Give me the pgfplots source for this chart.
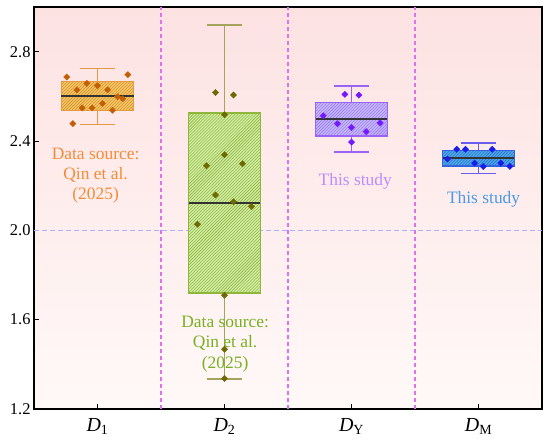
\documentclass[border=0pt]{standalone}
\usepackage{fontspec}
\setmainfont{Liberation Serif}
\usepackage{pgfplots}
\pgfplotsset{compat=1.18}
\usepgfplotslibrary{statistics}
\usetikzlibrary{patterns}
\definecolor{bgtop}{HTML}{FDE2E2}
\definecolor{bgbot}{HTML}{FFF9F8}
\definecolor{vline}{HTML}{E070F0}
\definecolor{hline}{HTML}{AAB0FF}
% D1
\definecolor{aFill}{HTML}{F5C363}
\definecolor{aEdge}{HTML}{E29A45}
\definecolor{aHatch}{HTML}{CF8E2A}
\definecolor{aPt}{HTML}{C45F05}
\definecolor{aTxt}{HTML}{F28C38}
% D2
\definecolor{bFill}{HTML}{CFEE9B}
\definecolor{bEdge}{HTML}{8DB63A}
\definecolor{bHatch}{HTML}{8CAA45}
\definecolor{bWh}{HTML}{A5A45C}
\definecolor{bPt}{HTML}{6E6A00}
\definecolor{bTxt}{HTML}{78B024}
% DY
\definecolor{cFill}{HTML}{C6B6FF}
\definecolor{cEdge}{HTML}{9A62F5}
\definecolor{cHatch}{HTML}{9274EC}
\definecolor{cPt}{HTML}{7418FF}
\definecolor{cTxt}{HTML}{BC8CFF}
% DM
\definecolor{dFill}{HTML}{4CA6EA}
\definecolor{dEdge}{HTML}{3462E0}
\definecolor{dHatch}{HTML}{2A6CC4}
\definecolor{dWh}{HTML}{6A5CEE}
\definecolor{dPt}{HTML}{1A1CEC}
\definecolor{dTxt}{HTML}{4A9AE6}
\begin{document}
\begin{tikzpicture}
\begin{axis}[
  name=ax,
  scale only axis,
  width=508bp, height=402bp,
  xmin=-0.5, xmax=3.5,
  ymin=1.2, ymax=3.0,
  xtick={0,1,2,3},
  xticklabels={{\textit{D}\textsubscript{1}},{\textit{D}\textsubscript{2}},{\textit{D}\textsubscript{Y}},{\textit{D}\textsubscript{M}}},
  ytick={1.2,1.6,2.0,2.4,2.8},
  yticklabel style={/pgf/number format/.cd, fixed, fixed zerofill, precision=1},
  /pgf/number format/assume math mode=true,
  tick label style={font=\fontsize{16.5}{19}\selectfont, black},
  xticklabel style={font=\fontsize{20}{23}\selectfont, yshift=-6bp},
  tick pos=left,
  tick align=inside,
  major tick length=5bp,
  tick style={black, line width=1pt},
  axis line style={black, line width=1.3pt},
  axis background/.style={top color=bgtop, bottom color=bgbot},
  clip=false,
  boxplot/draw direction=y,
  boxplot/every median/.style={draw=black!80, line width=1.8pt},
  mymark/.style={only marks, mark=square*, mark size=2.2pt, mark options={rotate=45}},
  sep/.style={dash pattern=on 4bp off 3bp, line width=1.25bp, forget plot},
]
% separators
\addplot[hline, dash pattern=on 5bp off 3bp, line width=1.1bp, forget plot] coordinates {(-0.5,2.0) (3.5,2.0)};
\addplot[vline, sep] coordinates {(0.5,1.2) (0.5,3.0)};
\addplot[vline, sep] coordinates {(1.5,1.2) (1.5,3.0)};
\addplot[vline, sep] coordinates {(2.5,1.2) (2.5,3.0)};

% D1 box
\addplot[draw=aEdge, line width=1.6pt, fill=aFill,
  boxplot/every box/.style={postaction={pattern=north east lines, pattern color=aHatch}},
  boxplot prepared={draw position=0, lower whisker=2.474, lower quartile=2.536,
    median=2.600, upper quartile=2.666, upper whisker=2.725,
    box extend=0.57, whisker extend=0.28}] coordinates {};
\addplot[mymark, color=aPt] coordinates {
(-0.242,2.687) (0.239,2.697) (-0.084,2.658) (0,2.647) (-0.163,2.629) (0.079,2.629)
(0.157,2.598) (0.199,2.589) (0.039,2.568) (-0.121,2.548) (-0.042,2.548) (0.118,2.538)
(-0.194,2.478)};

% D2 box
\addplot[draw=bEdge, line width=1.6pt, fill=bFill,
  boxplot/every box/.style={postaction={pattern=north east lines, pattern color=bHatch}},
  boxplot/every whisker/.style={draw=bWh, line width=1.7pt},
  boxplot prepared={draw position=1, lower whisker=1.333, lower quartile=1.720,
    median=2.124, upper quartile=2.526, upper whisker=2.918,
    box extend=0.565, whisker extend=0.28}] coordinates {};
\addplot[mymark, color=bPt] coordinates {
(0.929,2.617) (1.071,2.606) (1,2.518) (1,2.338) (0.858,2.289) (1.142,2.298)
(0.929,2.158) (1.071,2.128) (1.213,2.107) (0.787,2.027) (1,1.709) (1,1.468) (1,1.337)};

% DY box
\addplot[draw=cEdge, line width=1.6pt, fill=cFill,
  boxplot/every box/.style={postaction={pattern=north east lines, pattern color=cHatch}},
  boxplot prepared={draw position=2, lower whisker=2.350, lower quartile=2.422,
    median=2.499, upper quartile=2.573, upper whisker=2.645,
    box extend=0.565, whisker extend=0.28}] coordinates {};
\addplot[mymark, color=cPt] coordinates {
(1.948,2.609) (2.058,2.605) (1.777,2.513) (2.226,2.481) (1.890,2.477)
(2,2.460) (2.116,2.442) (2,2.395)};

% DM box
\addplot[draw=dEdge, line width=1.6pt, fill=dFill,
  boxplot/every box/.style={postaction={pattern=north east lines, pattern color=dHatch}},
  boxplot/every whisker/.style={draw=dWh, line width=1.7pt},
  boxplot prepared={draw position=3, lower whisker=2.255, lower quartile=2.289,
    median=2.323, upper quartile=2.358, upper whisker=2.392,
    box extend=0.565, whisker extend=0.28}] coordinates {};
\addplot[mymark, color=dPt] coordinates {
(2.829,2.363) (2.898,2.363) (3.108,2.363) (2.756,2.319) (2.969,2.301)
(3.176,2.301) (3.037,2.286) (3.247,2.286)};

% annotations
\node[aTxt, align=center, font=\fontsize{17.5}{20.5}\selectfont] at (axis cs:-0.015,2.245) {Data source:\\Qin et al.\\(2025)};
\node[bTxt, align=center, font=\fontsize{17.5}{20.5}\selectfont] at (axis cs:1.005,1.492) {Data source:\\Qin et al.\\(2025)};
\node[cTxt, font=\fontsize{17.5}{20.5}\selectfont] at (axis cs:2.03,2.22) {This study};
\node[dTxt, font=\fontsize{17.5}{20.5}\selectfont] at (axis cs:3.04,2.138) {This study};
\end{axis}
\pgfresetboundingbox
\path ([xshift=-34bp,yshift=-36bp]ax.south west) rectangle ([xshift=8bp,yshift=7bp]ax.north east);
\end{tikzpicture}
\end{document}
